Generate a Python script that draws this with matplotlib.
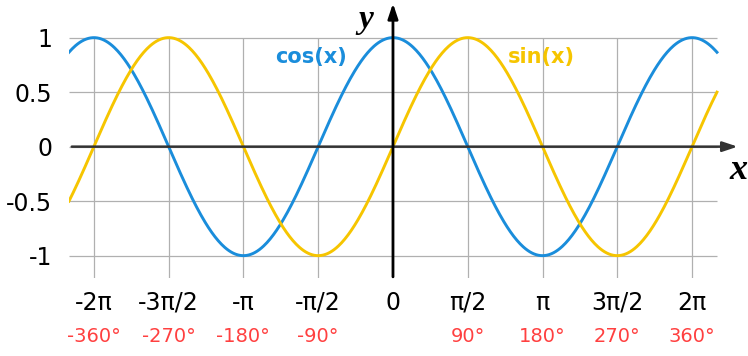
import numpy as np
from matplotlib import pyplot as plt

# x range of the curves (a little past +-2pi) and the tick positions
x_min = -13 * np.pi / 6
x_max = 13 * np.pi / 6
x_ticks = [k * np.pi / 2 for k in range(-4, 5)]
pi_labels = ["-2π", "-3π/2", "-π", "-π/2", "0", "π/2", "π", "3π/2", "2π"]
deg_labels = ["-360°", "-270°", "-180°", "-90°", "", "90°", "180°", "270°", "360°"]
y_ticks = [-1, -0.5, 0, 0.5, 1]
y_labels = ["-1", "-0.5", "0", "0.5", "1"]

blue = "#1a8ddb"
yellow = "#f6c500"
red = "#ff4040"

x = np.linspace(x_min, x_max, 600)

fig = plt.figure(figsize=(7.48, 3.56), dpi=100)
ax = fig.add_axes([0.0922, 0.2191, 0.8944, 0.7725])
ax.set_xlim(x_min, 7.248)
ax.set_ylim(-1.205, 1.318)
for s in ax.spines.values():
    s.set_visible(False)

# grid
ax.hlines(y_ticks, x_min, x_max, color="#b0b0b0", lw=0.9, zorder=1)
ax.vlines(x_ticks, -1.205, 1, color="#b0b0b0", lw=0.9, zorder=1)

ax.plot(x, np.cos(x), color=blue, lw=2.1, zorder=3)
ax.plot(x, np.sin(x), color=yellow, lw=2.1, zorder=3)

# axes with arrows, drawn over the curves
ax.annotate("", xy=(7.3, 0), xytext=(x_min, 0),
            arrowprops=dict(arrowstyle="-|>,head_length=0.9,head_width=0.3",
                            color="#333333", lw=1.8), annotation_clip=False, zorder=4)
ax.annotate("", xy=(0, 1.34), xytext=(0, -1.22),
            arrowprops=dict(arrowstyle="-|>,head_length=0.9,head_width=0.3",
                            color="black", lw=2), annotation_clip=False, zorder=4)

ax.set_xticks(x_ticks, pi_labels)
ax.set_yticks(y_ticks, y_labels)
ax.tick_params(axis="x", length=0, pad=9, labelsize=17)
ax.tick_params(axis="y", length=0, pad=12, labelsize=17)

for t, d in zip(x_ticks, deg_labels):
    ax.text(t, -0.2145, d, transform=ax.get_xaxis_transform(), color=red,
            fontsize=14, ha="center", va="center")

ax.text(-1.72, 0.82, "cos(x)", color=blue, fontsize=15, fontweight="bold",
        ha="center", va="center")
ax.text(3.11, 0.82, "sin(x)", color=yellow, fontsize=15, fontweight="bold",
        ha="center", va="center")

ax.text(-0.58, 1.17, "y", family="Liberation Serif", style="italic",
        fontweight="bold", fontsize=24, ha="center", va="center")
ax.text(7.25, -0.22, "x", family="Liberation Serif", style="italic",
        fontweight="bold", fontsize=26, ha="center", va="center", clip_on=False)

fig.savefig("out.png", dpi=100)
